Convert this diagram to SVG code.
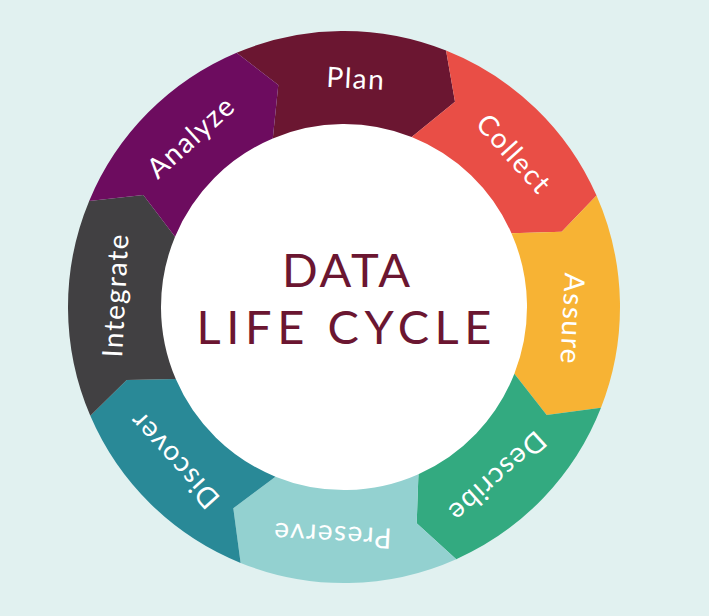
<svg xmlns="http://www.w3.org/2000/svg" width="709" height="616" viewBox="0 0 709 616">
<style>
.lbl{font-family:Lato,"Liberation Sans",sans-serif;font-size:28px;fill:#ffffff;text-anchor:middle;letter-spacing:1.5px}
.title{font-family:Lato,"Liberation Sans",sans-serif;font-size:47px;font-weight:400;fill:#6b1631;text-anchor:middle}
</style>
<rect width="709" height="616" fill="#e1f1f0"/>
<circle cx="344" cy="307" r="186" fill="#ffffff"/>
<g id="connectors"></g>
<g id="plan">
<path d="M236.60,52.75 A276,276 0 0 1 446.05,50.56 L455,101.7 L411.66,136.97 A183,183 0 0 0 272.79,138.42 L278.3,85 Z" fill="#6b1631"/>
<text class="lbl" x="344" y="88" transform="rotate(3 344 307)">Plan</text>
</g>
<g id="collect">
<path d="M446.05,50.56 A276,276 0 0 1 596.53,195.62 L561.7,231.7 L511.44,233.15 A183,183 0 0 0 411.66,136.97 L455,101.7 Z" fill="#e94e46"/>
<text class="lbl" x="344" y="88" transform="rotate(48 344 307)">Collect</text>
</g>
<g id="assure">
<path d="M596.53,195.62 A276,276 0 0 1 600.97,407.71 L546.7,415 L514.38,373.77 A183,183 0 0 0 511.44,233.15 L561.7,231.7 Z" fill="#f7b334"/>
<text class="lbl" x="344" y="88" transform="rotate(93 344 307)">Assure</text>
</g>
<g id="describe">
<path d="M600.97,407.71 A276,276 0 0 1 456.26,559.14 L416.7,523.3 L418.43,474.18 A183,183 0 0 0 514.38,373.77 L546.7,415 Z" fill="#33aa80"/>
<text class="lbl" x="344" y="88" transform="rotate(138 344 307)">Describe</text>
</g>
<g id="preserve">
<path d="M456.26,559.14 A276,276 0 0 1 240.61,562.90 L233.3,508.3 L275.45,476.67 A183,183 0 0 0 418.43,474.18 L416.7,523.3 Z" fill="#93d1d0"/>
<text class="lbl" x="344" y="88" transform="rotate(183 344 307)">Preserve</text>
</g>
<g id="discover">
<path d="M240.61,562.90 A276,276 0 0 1 90.32,415.73 L126.7,380 L175.80,379.09 A183,183 0 0 0 275.45,476.67 L233.3,508.3 Z" fill="#298997"/>
<text class="lbl" x="344" y="88" transform="rotate(228 344 307)">Discover</text>
</g>
<g id="integrate">
<path d="M90.32,415.73 A276,276 0 0 1 89.19,200.93 L143.3,195 L175.05,236.67 A183,183 0 0 0 175.80,379.09 L126.7,380 Z" fill="#414042"/>
<text class="lbl" x="344" y="88" transform="rotate(273 344 307)">Integrate</text>
</g>
<g id="analyze">
<path d="M89.19,200.93 A276,276 0 0 1 236.60,52.75 L278.3,85 L272.79,138.42 A183,183 0 0 0 175.05,236.67 L143.3,195 Z" fill="#6d0c5f"/>
<text class="lbl" x="344" y="88" transform="rotate(318 344 307)">Analyze</text>
</g>
<g id="center">
<text class="title" x="346" y="287" textLength="128" lengthAdjust="spacing">DATA</text>
<text class="title" x="344" y="344" textLength="295" lengthAdjust="spacing">LIFE CYCLE</text>
</g>
</svg>
